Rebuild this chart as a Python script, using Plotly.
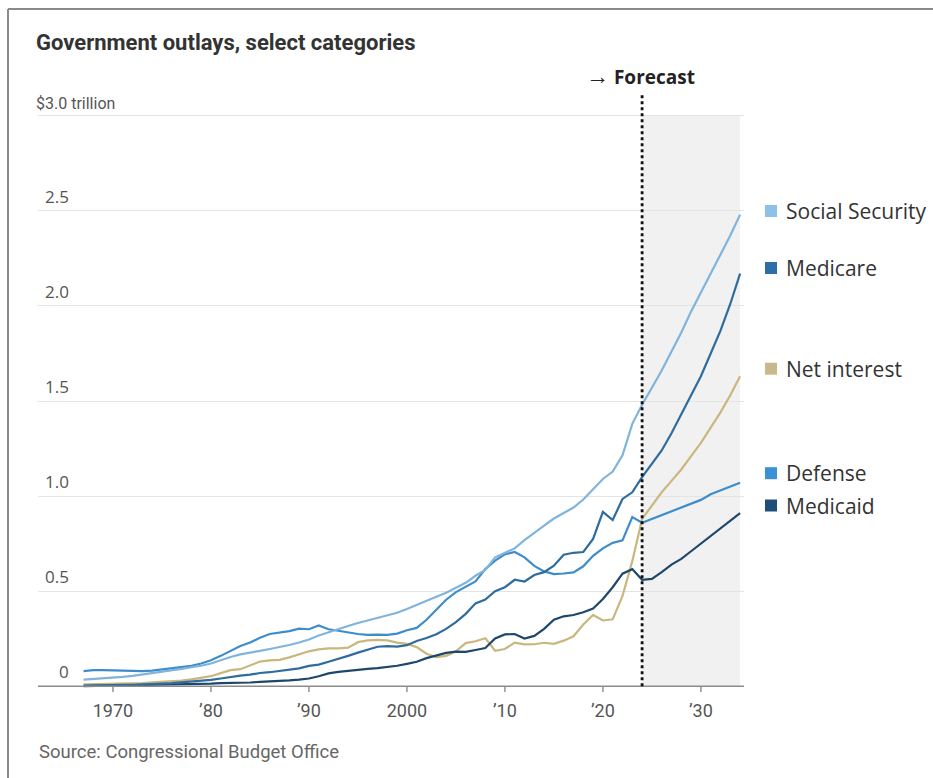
import plotly.graph_objects as go

# ---- data (trillions of dollars, fiscal years) ----
years = list(range(1967, 2035))

social_security = [
    0.035, 0.038, 0.042, 0.045, 0.050, 0.055, 0.062, 0.068, 0.075, 0.083,  # 1967-1976
    0.092, 0.100, 0.108, 0.120, 0.138, 0.154, 0.168, 0.176, 0.186, 0.196,  # 1977-1986
    0.205, 0.217, 0.230, 0.246, 0.267, 0.285, 0.302, 0.317, 0.333, 0.347,  # 1987-1996
    0.362, 0.376, 0.387, 0.406, 0.429, 0.452, 0.471, 0.492, 0.519, 0.544,  # 1997-2006
    0.581, 0.612, 0.678, 0.701, 0.725, 0.768, 0.808, 0.845, 0.882, 0.910,  # 2007-2016
    0.940, 0.982, 1.038, 1.090, 1.129, 1.215, 1.380, 1.480, 1.570, 1.660,  # 2017-2026
    1.760, 1.860, 1.970, 2.070, 2.170, 2.270, 2.370, 2.480,                # 2027-2034
]

medicare = [
    0.003, 0.005, 0.006, 0.007, 0.008, 0.008, 0.009, 0.011, 0.014, 0.017,
    0.021, 0.024, 0.028, 0.034, 0.041, 0.049, 0.056, 0.061, 0.070, 0.074,
    0.080, 0.086, 0.094, 0.107, 0.114, 0.129, 0.143, 0.160, 0.177, 0.191,
    0.208, 0.211, 0.209, 0.216, 0.238, 0.254, 0.274, 0.302, 0.337, 0.381,
    0.436, 0.456, 0.500, 0.521, 0.560, 0.551, 0.585, 0.600, 0.634, 0.692,
    0.702, 0.706, 0.775, 0.917, 0.874, 0.985, 1.020, 1.100, 1.170, 1.240,
    1.330, 1.430, 1.530, 1.630, 1.750, 1.870, 2.010, 2.170,
]

net_interest = [
    0.010, 0.011, 0.013, 0.014, 0.015, 0.016, 0.017, 0.021, 0.023, 0.027,
    0.030, 0.036, 0.043, 0.053, 0.069, 0.085, 0.090, 0.111, 0.130, 0.136,
    0.139, 0.152, 0.169, 0.184, 0.194, 0.199, 0.199, 0.203, 0.232, 0.241,
    0.244, 0.241, 0.230, 0.223, 0.206, 0.171, 0.153, 0.160, 0.184, 0.227,
    0.237, 0.253, 0.187, 0.196, 0.230, 0.220, 0.221, 0.229, 0.223, 0.240,
    0.263, 0.325, 0.375, 0.346, 0.352, 0.475, 0.658, 0.880, 0.950, 1.020,
    1.080, 1.140, 1.210, 1.280, 1.360, 1.440, 1.530, 1.630,
]

defense = [
    0.080, 0.085, 0.085, 0.084, 0.082, 0.080, 0.080, 0.082, 0.088, 0.092,
    0.100, 0.107, 0.120, 0.137, 0.160, 0.188, 0.212, 0.230, 0.255, 0.275,
    0.283, 0.290, 0.303, 0.300, 0.320, 0.300, 0.292, 0.283, 0.275, 0.270,
    0.272, 0.270, 0.277, 0.295, 0.307, 0.350, 0.405, 0.455, 0.495, 0.522,
    0.551, 0.616, 0.661, 0.694, 0.706, 0.678, 0.633, 0.604, 0.590, 0.593,
    0.599, 0.631, 0.686, 0.725, 0.754, 0.767, 0.890, 0.860, 0.880, 0.900,
    0.920, 0.940, 0.960, 0.980, 1.010, 1.030, 1.050, 1.070,
]

medicaid = [
    0.001, 0.002, 0.002, 0.003, 0.003, 0.005, 0.005, 0.006, 0.007, 0.009,
    0.010, 0.011, 0.012, 0.014, 0.017, 0.017, 0.019, 0.020, 0.023, 0.025,
    0.027, 0.031, 0.035, 0.041, 0.053, 0.068, 0.076, 0.082, 0.089, 0.092,
    0.096, 0.101, 0.108, 0.118, 0.129, 0.148, 0.161, 0.176, 0.182, 0.181,
    0.191, 0.201, 0.251, 0.273, 0.275, 0.251, 0.265, 0.302, 0.350, 0.368,
    0.375, 0.389, 0.409, 0.459, 0.521, 0.592, 0.616, 0.560, 0.565, 0.600,
    0.640, 0.670, 0.710, 0.750, 0.790, 0.830, 0.870, 0.910,
]

series_names = ["Social Security", "Medicare", "Net interest", "Defense", "Medicaid"]
series_values = [social_security, medicare, net_interest, defense, medicaid]
line_colors = ["#80b4dc", "#2f6c9e", "#c9b77e", "#3d8dcc", "#1e476b"]
swatch_colors = ["#8cc1e8", "#2c6ea5", "#c7b98b", "#3a92d6", "#1f4e78"]
legend_y = [2.50, 2.20, 1.67, 1.12, 0.95]   # label positions on the value axis

forecast_start, forecast_end = 2024, 2034

y_tick_vals = [0.5, 1.0, 1.5, 2.0, 2.5, 3.0]
y_tick_text = ["0.5", "1.0", "1.5", "2.0", "2.5", "$3.0 trillion"]
x_tick_vals = [1970, 1980, 1990, 2000, 2010, 2020, 2030]
x_tick_text = ["1970", "\u201980", "\u201990", "2000", "\u201910", "\u201920", "\u201930"]

# ---- geometry ----
W, H = 933, 778
ML, MR, MT, MB = 38, 189, 110, 86
X_RANGE = [1962.35, 2034.4]
Y_RANGE = [-0.03, 3.03]
PW, PH = W - ML - MR, H - MT - MB


def px(x):
    """Horizontal pixel -> paper coordinate."""
    return (x - ML) / PW


def py(y):
    """Vertical pixel -> paper coordinate."""
    return (H - MB - y) / PH


def yval_paper(v):
    return (v - Y_RANGE[0]) / (Y_RANGE[1] - Y_RANGE[0])


COND = "Roboto, sans-serif"
OPEN = "Open Sans, Noto Sans, sans-serif"

fig = go.Figure()

# draw order: lighter/underlying series first
order = [2, 4, 3, 1, 0]
for i in order:
    fig.add_trace(go.Scatter(
        x=years, y=series_values[i], mode="lines", name=series_names[i],
        line=dict(color=line_colors[i], width=2.2), hoverinfo="skip",
    ))

shapes = []
# forecast shading
shapes.append(dict(type="rect", xref="x", yref="y", x0=forecast_start, x1=forecast_end,
                   y0=0, y1=3.0, fillcolor="#f1f1f1", line=dict(width=0), layer="below"))
# baseline
shapes.append(dict(type="line", xref="paper", yref="y", x0=0, x1=1, y0=0, y1=0,
                   line=dict(color="#8c8c8c", width=1.6), layer="above"))
# x ticks
for xv in x_tick_vals:
    shapes.append(dict(type="line", xref="x", yref="y", x0=xv, x1=xv, y0=0, y1=-0.035,
                       line=dict(color="#8c8c8c", width=1.4)))
# forecast divider
shapes.append(dict(type="line", xref="paper", yref="paper",
                   x0=(forecast_start - X_RANGE[0]) / (X_RANGE[1] - X_RANGE[0]),
                   x1=(forecast_start - X_RANGE[0]) / (X_RANGE[1] - X_RANGE[0]),
                   y0=yval_paper(0), y1=py(94),
                   line=dict(color="#111111", width=2.8, dash="dot")))
# outer frame
shapes.append(dict(type="line", xref="paper", yref="paper", x0=px(8), x1=px(940),
                   y0=py(9), y1=py(9), line=dict(color="#8a8a8a", width=2)))
shapes.append(dict(type="line", xref="paper", yref="paper", x0=px(8), x1=px(8),
                   y0=py(9), y1=py(790), line=dict(color="#8a8a8a", width=2)))
# legend swatches
for c, ly in zip(swatch_colors, legend_y):
    cy = py(686 - ly * 190)
    shapes.append(dict(type="rect", xref="paper", yref="paper",
                       x0=px(765), x1=px(777), y0=cy - 6 / PH, y1=cy + 6 / PH,
                       fillcolor=c, line=dict(width=0)))

annotations = []
# legend labels
for name, ly in zip(series_names, legend_y):
    annotations.append(dict(xref="paper", yref="y", x=px(784), y=ly, text=name,
                            showarrow=False, xanchor="left", yanchor="middle",
                            font=dict(family=OPEN, size=21, color="#333333")))
# value-axis labels above gridlines
for v, t in zip(y_tick_vals + [0], y_tick_text + ["0"]):
    if v == 3.0:
        annotations.append(dict(xref="paper", yref="y", x=px(34), y=v, text=t,
                                showarrow=False, xanchor="left", yanchor="bottom",
                                yshift=1, font=dict(family=COND, size=16, color="#555555")))
    else:
        annotations.append(dict(xref="paper", yref="y", x=px(71), y=v, text=t,
                                showarrow=False, xanchor="right", yanchor="bottom",
                                yshift=1, font=dict(family=OPEN, size=17, color="#555555")))
# title, forecast label, source
annotations.append(dict(xref="paper", yref="paper", x=px(34), y=py(43), text="<b>Government outlays, select categories</b>",
                        showarrow=False, xanchor="left", yanchor="middle",
                        font=dict(family=COND, size=22, color="#333333")))
annotations.append(dict(xref="paper", yref="paper", x=px(640), y=py(75),
                        text="<b><span style='font-size:23px'>\u2192</span> Forecast</b>",
                        showarrow=False, xanchor="center", yanchor="middle",
                        font=dict(family=OPEN, size=19, color="#222222")))
annotations.append(dict(xref="paper", yref="paper", x=px(37), y=py(752), text="Source: Congressional Budget Office",
                        showarrow=False, xanchor="left", yanchor="middle",
                        font=dict(family=COND, size=18.5, color="#666666")))

fig.update_layout(
    width=W, height=H,
    margin=dict(l=ML, r=MR, t=MT, b=MB, pad=0),
    paper_bgcolor="white", plot_bgcolor="white",
    showlegend=False,
    shapes=shapes, annotations=annotations,
    xaxis=dict(range=X_RANGE, tickvals=x_tick_vals, ticktext=x_tick_text,
               showgrid=False, zeroline=False, showline=False, ticks="",
               ticklabelstandoff=6,
               tickfont=dict(family=COND, size=18, color="#555555")),
    yaxis=dict(range=Y_RANGE, tickvals=y_tick_vals, showticklabels=False,
               showgrid=True, gridcolor="#e4e4e4", gridwidth=1,
               zeroline=False, showline=False, ticks=""),
)

fig.write_html("out.html")
